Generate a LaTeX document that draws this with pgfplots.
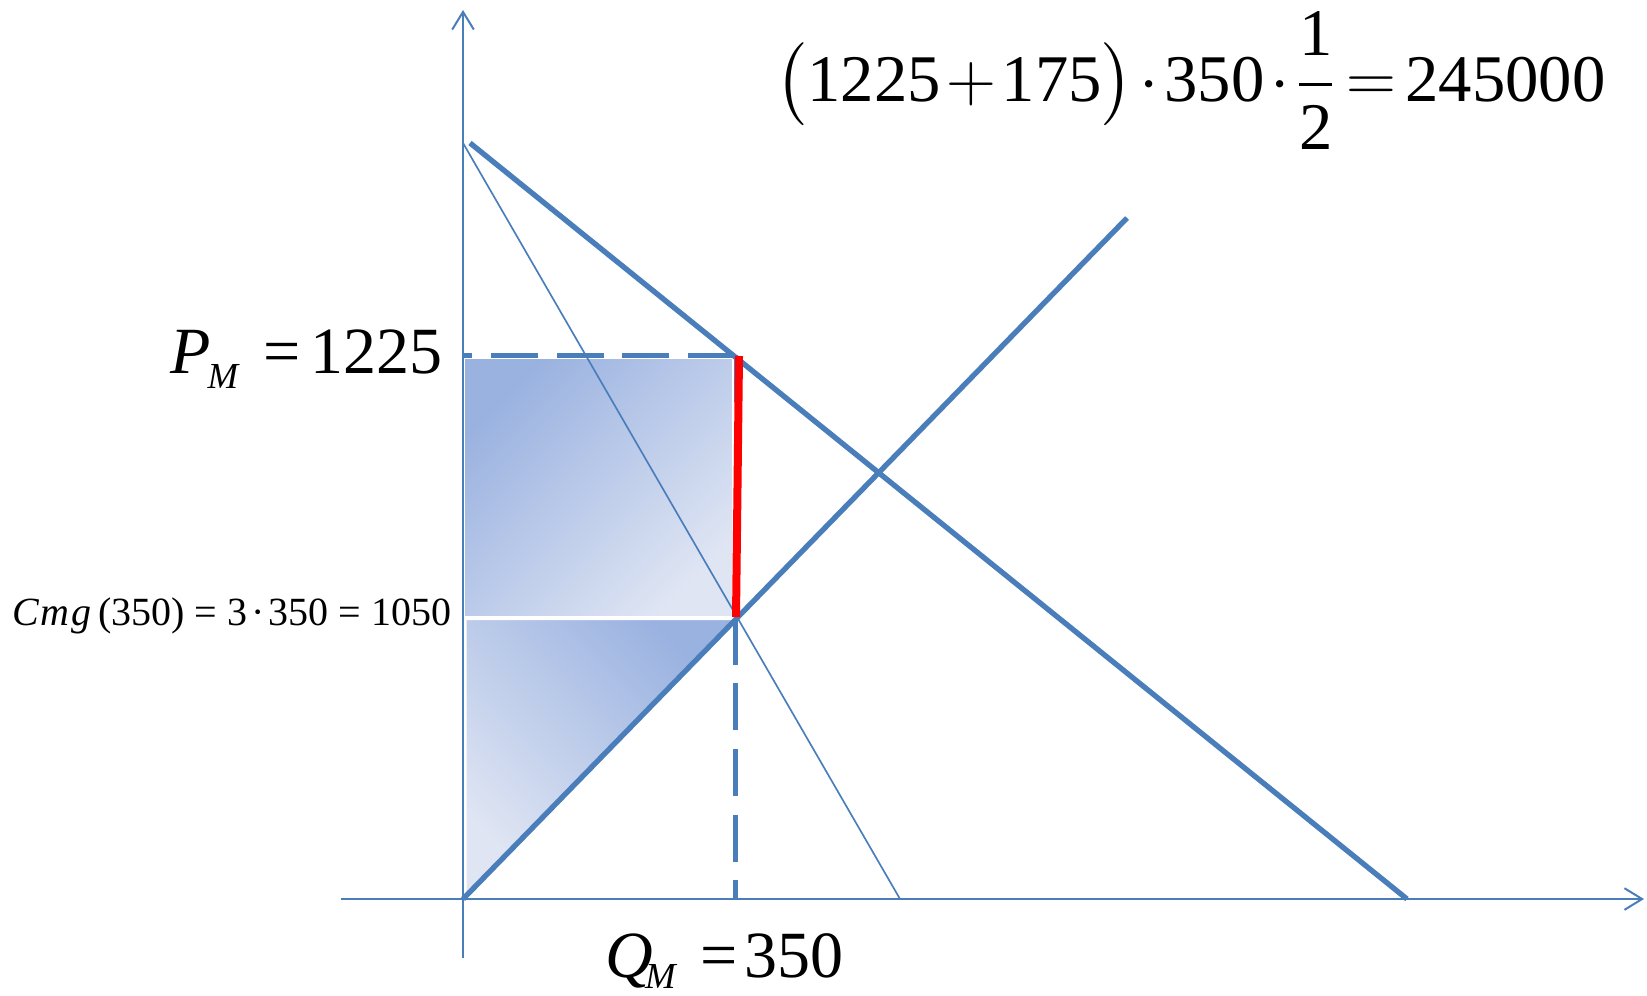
\documentclass[border=0pt]{standalone}
\usepackage{pgfplots}
\pgfplotsset{compat=1.18}
\usepackage{amsmath}
\usepackage{fontspec}
\setmainfont{Liberation Serif}
\usetikzlibrary{arrows.meta}
\definecolor{lblue}{HTML}{4A7EBB}
\definecolor{sdark}{HTML}{9AB2E0}
\definecolor{slight}{HTML}{DFE5F3}

\begin{document}
\begin{tikzpicture}
\begin{axis}[name=ax, x=0.3pt, y=0.3pt, xmin=-463, xmax=1184, ymin=-96, ymax=899,
  hide axis, clip=false]
% dashed guide lines
\addplot[lblue, line width=1.5pt, dash pattern=on 14.1pt off 5.6pt] coordinates {(272,544) (0,544)};
\addplot[lblue, line width=1.5pt, dash pattern=on 14.1pt off 5.6pt] coordinates {(272,544) (272,0)};
% shaded areas
\addplot[draw=white, line width=0.4pt, top color=sdark, bottom color=slight, shading angle=45]
  coordinates {(1,282) (1,540.5) (270,540.5) (270,282)} -- cycle;
\addplot[draw=white, line width=0.4pt, top color=sdark, bottom color=slight, shading angle=-45]
  coordinates {(3,5) (3,279.5) (270,279.5)} -- cycle;
% axes
\addplot[lblue, line width=0.6pt, -{Straight Barb[length=5.3pt, width=6.5pt]}] coordinates {(-122,0) (1181,0)};
\addplot[lblue, line width=0.6pt, -{Straight Barb[length=5.3pt, width=6.5pt]}] coordinates {(0,-59) (0,889)};
% curves
\addplot[lblue, line width=0.5pt] coordinates {(0,756) (437,0)};
\addplot[lblue, line width=1.6pt] coordinates {(7,756) (944,0)};
\addplot[lblue, line width=1.6pt] coordinates {(0,0) (664,681)};
\addplot[red, line width=2.4pt] coordinates {(273,282) (276,543)};
% labels
\node[anchor=base east, inner sep=0pt] at (axis cs:-20,526)
  {\fontsize{19.8}{24}\selectfont\itshape P\kern-1pt\raisebox{-4.5pt}{\fontsize{11}{13}\selectfont M}\hspace{7.5pt}\upshape =\hspace{3pt}1225};
\node[anchor=base east, inner sep=0pt] at (axis cs:-11,274)
  {\fontsize{12}{14}\selectfont\textit{C\kern0.6pt m\kern0.6pt g}\hspace{2pt}(350)\hspace{3pt}=\hspace{3pt}3\hspace{1.2pt}·\hspace{1.2pt}350\hspace{3pt}=\hspace{3pt}1050};
\node[anchor=base west, inner sep=0pt] at (axis cs:142,-78)
  {\fontsize{19.8}{24}\selectfont\itshape Q\kern-2.5pt\raisebox{-3.3pt}{\fontsize{11}{13}\selectfont M}\hspace{7.5pt}\upshape =\hspace{2pt}350};
\node[anchor=base west, inner sep=0pt] at (axis cs:312,797)
  {\fontsize{20}{24}\selectfont $\medmuskip=1.5mu \thickmuskip=2.5mu \bigl(\text{1225}+\text{175}\bigr)\cdot\text{350}\cdot\dfrac{\text{1}}{\text{2}}=\text{245000}$};
\end{axis}
\pgfresetboundingbox
\path (ax.south west) rectangle (ax.north east);
\end{tikzpicture}
\end{document}
